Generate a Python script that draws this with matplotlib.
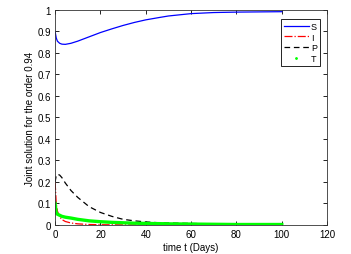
import matplotlib.pyplot as plt
from matplotlib.lines import Line2D

plt.rcParams['font.family'] = ['Liberation Sans', 'DejaVu Sans']

# time grid (days)
t = [0, 0.5, 1, 2, 3, 4.5, 7, 10, 15, 20, 25, 30, 35, 40, 46, 50, 60, 70, 80, 90, 100]

S = [0.900, 0.870, 0.855, 0.845, 0.841, 0.840, 0.845, 0.855, 0.875, 0.895, 0.912,
     0.928, 0.942, 0.954, 0.965, 0.972, 0.983, 0.988, 0.990, 0.991, 0.992]
I = [0.200, 0.100, 0.065, 0.038, 0.025, 0.016, 0.009, 0.005, 0.002, 0.001, 0.0005,
     0.0003, 0.0002, 0.0001, 0.0001, 0.0, 0.0, 0.0, 0.0, 0.0, 0.0]
P = [0.200, 0.230, 0.236, 0.232, 0.220, 0.195, 0.160, 0.128, 0.085, 0.058, 0.040,
     0.026, 0.019, 0.014, 0.010, 0.009, 0.007, 0.005, 0.004, 0.003, 0.003]
T = [0.100, 0.055, 0.050, 0.045, 0.040, 0.036, 0.032, 0.026, 0.019, 0.015, 0.012,
     0.010, 0.008, 0.007, 0.006, 0.005, 0.004, 0.003, 0.002, 0.002, 0.002]

labels = ["S", "I", "P", "T"]

fig = plt.figure(figsize=(3.51, 2.55), dpi=100)
ax = fig.add_axes([0.157, 0.114, 0.775, 0.843])

ax.plot(t, S, color="#0000ff", lw=0.9)
ax.plot(t, I, color="#ff0000", lw=0.9, ls="-.")
ax.plot(t, P, color="black", lw=0.9, ls=(0, (4.5, 3)))
ax.plot(t, T, color="#00ff00", lw=2.4)

ax.set_xlim(0, 120)
ax.set_ylim(0, 1)
ax.set_xticks(range(0, 121, 20))
ax.set_yticks([i / 10 for i in range(11)])
ax.set_yticklabels(["0", "0.1", "0.2", "0.3", "0.4", "0.5", "0.6", "0.7", "0.8", "0.9", "1"])
ax.tick_params(direction="in", top=True, right=True, labelsize=7, length=3, width=0.6, pad=3)
for sp in ax.spines.values():
    sp.set_linewidth(0.6)
    sp.set_color("#333333")

ax.set_xlabel("time t (Days)", fontsize=7, labelpad=2)
ax.set_ylabel("Joint solution for the order 0.94", fontsize=7, labelpad=2)

handles = [
    Line2D([], [], color="#0000ff", lw=0.9),
    Line2D([], [], color="#ff0000", lw=0.9, ls="-."),
    Line2D([], [], color="black", lw=0.9, ls=(0, (4.5, 3))),
    Line2D([], [], color="#00ff00", ls="none", marker=".", markersize=2),
]
leg = ax.legend(handles, labels, loc="upper right", bbox_to_anchor=(0.972, 0.958),
                borderaxespad=0, fontsize=6.5, fancybox=False, framealpha=1,
                handlelength=2.8, handletextpad=0.2, labelspacing=0.2,
                borderpad=0.3)
leg.get_frame().set_edgecolor("black")
leg.get_frame().set_linewidth(0.6)

fig.savefig("out.png", dpi=100)
